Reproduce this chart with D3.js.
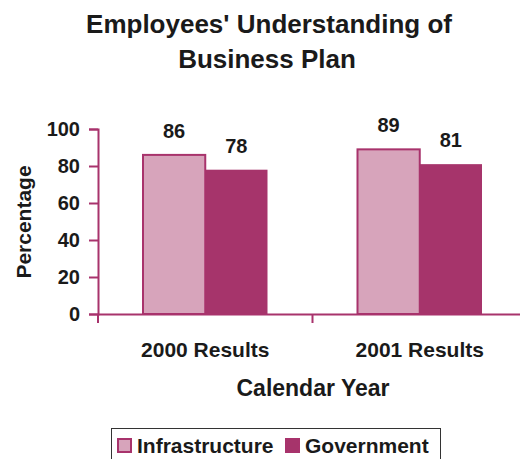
<!DOCTYPE html>
<html>
<head>
<meta charset="utf-8">
<script src="https://cdn.jsdelivr.net/npm/d3@7"></script>
<style>
  body { margin: 0; background: #fff; }
  svg text { font-family: "Liberation Sans", Arial, sans-serif; font-weight: bold; fill: #1a1a1a; }
</style>
</head>
<body>
<div id="chart"></div>
<script>
// data
var categories = ["2000 Results", "2001 Results"];
var seriesNames = ["Infrastructure", "Government"];
var infrastructure = [86, 89];
var government = [78, 81];
var yTicks = [0, 20, 40, 60, 80, 100];

var colors = ["#d7a4bb", "#a6346b"];
var axisColor = "#a8336c";

var W = 520, H = 459;
var margin = {top: 129, right: -7, bottom: 145, left: 98},
    width = W - margin.left - margin.right,
    height = H - margin.top - margin.bottom;

var svg = d3.select("#chart").append("svg")
    .attr("width", W)
    .attr("height", H);

// title
svg.append("text")
    .attr("x", 269).attr("y", 33)
    .attr("text-anchor", "middle")
    .style("font-size", "26px")
    .text("Employees' Understanding of");
svg.append("text")
    .attr("x", 267).attr("y", 68)
    .attr("text-anchor", "middle")
    .style("font-size", "26px")
    .text("Business Plan");

var g = svg.append("g")
    .attr("transform", "translate(" + margin.left + "," + margin.top + ")");

var x = d3.scaleBand().domain(categories).range([0, width]);
var inner = d3.scaleBand().domain(seriesNames).range([45, x.bandwidth() - 45]);
var y = d3.scaleLinear().domain([0, 100]).range([height, 0]);

var rows = categories.map(function(c, i) {
  return {cat: c, vals: [infrastructure[i], government[i]]};
});

// bars
var grp = g.selectAll(".grp").data(rows).enter().append("g")
    .attr("transform", function(d) { return "translate(" + x(d.cat) + ",0)"; });

grp.selectAll("rect").data(function(d) { return d.vals; }).enter().append("rect")
    .attr("x", function(d, i) { return inner(seriesNames[i]); })
    .attr("y", function(d) { return y(d); })
    .attr("width", inner.bandwidth())
    .attr("height", function(d) { return height - y(d); })
    .attr("fill", function(d, i) { return colors[i]; })
    .attr("stroke", function(d, i) { return i == 0 ? axisColor : "none"; })
    .attr("stroke-width", 2);

grp.selectAll(".val").data(function(d) { return d.vals; }).enter().append("text")
    .attr("x", function(d, i) { return inner(seriesNames[i]) + inner.bandwidth() / 2; })
    .attr("y", function(d) { return y(d) - 17; })
    .attr("text-anchor", "middle")
    .style("font-size", "20px")
    .text(function(d) { return d; });

// y axis
var yAxis = g.append("g")
    .call(d3.axisLeft(y).tickValues(yTicks).tickSize(9).tickPadding(9));
yAxis.selectAll("text").style("font-size", "20px").attr("fill", "#1a1a1a");

// x axis
var xAxis = g.append("g")
    .attr("transform", "translate(0," + height + ")")
    .call(d3.axisBottom(x).tickSize(0));
xAxis.selectAll("text")
    .style("font-size", "21px")
    .attr("fill", "#1a1a1a")
    .attr("y", 43).attr("dy", null);
// category separators below the axis
g.selectAll(".sep").data(categories).enter().append("line")
    .attr("x1", function(d) { return x(d); })
    .attr("x2", function(d) { return x(d); })
    .attr("y1", height).attr("y2", height + 9)
    .attr("stroke", axisColor).attr("stroke-width", 2);

g.selectAll(".domain").attr("stroke", axisColor).attr("stroke-width", 2);
g.selectAll(".tick line").attr("stroke", axisColor).attr("stroke-width", 2);

// axis titles
svg.append("text")
    .attr("x", 313).attr("y", 396)
    .attr("text-anchor", "middle")
    .style("font-size", "23px")
    .text("Calendar Year");
svg.append("text")
    .attr("transform", "translate(31,222) rotate(-90)")
    .attr("text-anchor", "middle")
    .style("font-size", "21px")
    .text("Percentage");

// legend
var legend = svg.append("g");
legend.append("rect")
    .attr("x", 111.5).attr("y", 428.5)
    .attr("width", 329).attr("height", 40)
    .attr("fill", "none").attr("stroke", "#333").attr("stroke-width", 1);
var lx = [118, 286];
seriesNames.forEach(function(s, i) {
  legend.append("rect")
      .attr("x", lx[i]).attr("y", 439)
      .attr("width", 13).attr("height", 13)
      .attr("fill", colors[i])
      .attr("stroke", axisColor).attr("stroke-width", 2);
  legend.append("text")
      .attr("x", lx[i] + 19).attr("y", 453)
      .style("font-size", "21px")
      .text(s);
});
</script>
</body>
</html>
